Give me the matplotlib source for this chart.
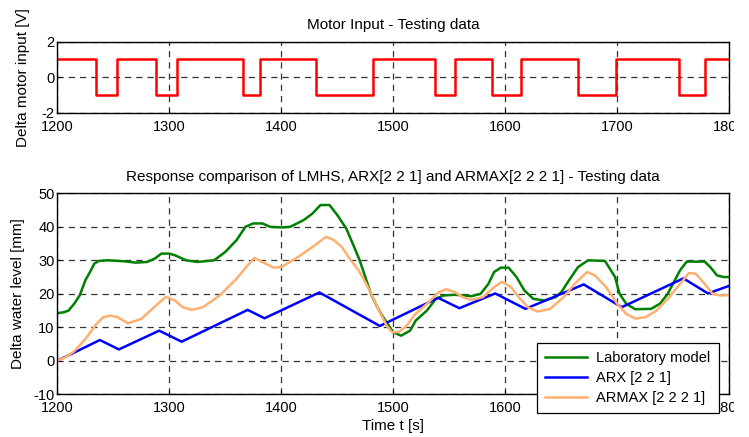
import matplotlib
matplotlib.use("Agg")
import matplotlib.pyplot as plt
from matplotlib.patches import Rectangle

plt.rcParams['font.family'] = ['Liberation Sans', 'DejaVu Sans']
plt.rcParams['font.size'] = 10
plt.rcParams['axes.unicode_minus'] = False

# motor input: switching instants and levels (step signal)
u_t = [1200, 1235, 1253, 1288, 1307, 1366, 1381, 1431, 1482, 1537, 1555,
       1588, 1614, 1665, 1699, 1755, 1778, 1800]
u_v = [1, -1, 1, -1, 1, -1, 1, -1, 1, -1, 1, -1, 1, -1, 1, -1, 1, 1]

# laboratory model (measured)
lab_t = [1200, 1206, 1210, 1215, 1220, 1225, 1230, 1233, 1237, 1245, 1260,
         1270, 1280, 1287, 1293, 1300, 1305, 1315, 1325, 1340, 1350, 1360,
         1368, 1375, 1383, 1390, 1400, 1408, 1420, 1428, 1435, 1443, 1450,
         1458, 1465, 1470, 1475, 1480, 1485, 1490, 1495, 1500, 1507, 1515,
         1520, 1530, 1538, 1545, 1555, 1570, 1578, 1585, 1590, 1596, 1603,
         1610, 1617, 1625, 1635, 1645, 1650, 1658, 1665, 1674, 1689, 1698,
         1702, 1708, 1716, 1730, 1738, 1745, 1756, 1762, 1778, 1783, 1789,
         1795, 1800]
lab_y = [14.2, 14.5, 15.0, 17.0, 19.5, 24.0, 27.0, 29.0, 29.8, 30.0, 29.7,
         29.3, 29.5, 30.5, 32.0, 32.0, 31.5, 30.0, 29.5, 30.0, 32.5, 36.0,
         40.0, 41.0, 41.0, 40.0, 39.8, 40.0, 42.0, 44.0, 46.5, 46.5, 43.5,
         39.5, 34.0, 30.0, 25.0, 20.0, 16.5, 13.5, 11.0, 8.5, 7.5, 9.0,
         12.0, 15.0, 18.5, 19.5, 19.7, 19.3, 20.0, 23.0, 26.5, 27.8, 27.8,
         25.0, 21.0, 18.5, 18.0, 19.0, 20.5, 24.6, 28.0, 30.0, 29.8, 25.0,
         20.0, 17.0, 15.4, 15.5, 17.0, 20.0, 27.0, 29.6, 29.6, 28.0, 25.5,
         25.0, 25.0]

# ARX [2 2 1]
arx_t = [1200, 1238, 1255, 1291, 1311, 1370, 1385, 1434, 1488, 1540, 1559,
         1591, 1618, 1670, 1704, 1759, 1781, 1800]
arx_y = [0.0, 6.2, 3.4, 9.0, 5.7, 15.2, 12.7, 20.4, 10.4, 18.8, 15.7,
         20.1, 15.5, 22.8, 16.0, 24.6, 20.1, 22.4]

# ARMAX [2 2 2 1]
armax_t = [1200, 1207, 1215, 1225, 1235, 1241, 1247, 1254, 1263, 1275, 1288,
           1297, 1305, 1312, 1320, 1330, 1345, 1360, 1370, 1376, 1383, 1393,
           1400, 1415, 1430, 1440, 1447, 1454, 1461, 1469, 1475, 1481, 1488,
           1494, 1499, 1505, 1512, 1519, 1530, 1540, 1547, 1555, 1562, 1570,
           1580, 1590, 1597, 1605, 1612, 1620, 1629, 1640, 1652, 1662, 1673,
           1680, 1690, 1700, 1708, 1716, 1725, 1735, 1745, 1755, 1764, 1770,
           1778, 1785, 1792, 1800]
armax_y = [0.0, 1.0, 2.8, 6.5, 11.0, 13.0, 13.5, 13.0, 11.2, 12.5, 16.5,
           19.1, 18.0, 16.0, 15.2, 16.0, 19.5, 24.5, 28.5, 30.7, 29.5, 27.8,
           28.0, 31.0, 34.5, 37.0, 36.0, 34.0, 30.5, 27.0, 23.5, 19.5, 14.5,
           10.5, 8.5, 8.6, 10.5, 13.7, 17.0, 20.3, 21.4, 20.5, 19.0, 18.2,
           19.0, 22.0, 23.6, 22.0, 19.0, 16.0, 14.7, 15.5, 19.0, 23.0, 26.5,
           25.5, 22.0, 17.0, 14.0, 12.6, 13.0, 15.0, 18.5, 22.5, 26.2, 26.0,
           23.0, 20.0, 19.5, 19.6]

xticks = [1200, 1300, 1400, 1500, 1600, 1700, 1800]

fig = plt.figure(figsize=(7.49, 4.37), dpi=100)
ax1 = fig.add_axes([0.0765, 0.7421, 0.8972, 0.1625])
ax2 = fig.add_axes([0.0765, 0.0977, 0.8972, 0.4600])

grid_kw = dict(color='0.2', linestyle=(0, (5, 4)), linewidth=0.9)

for ax in (ax1, ax2):
    ax.set_xlim(1200, 1800)
    ax.set_xticks(xticks)
    ax.grid(True, **grid_kw)
    ax.tick_params(direction='in', length=3, width=0.8, labelsize=10.5, pad=2)
    ax.tick_params(axis='x', pad=5)
    for s in ax.spines.values():
        s.set_linewidth(1.0)

ax1.step(u_t, u_v, where='post', color='red', linewidth=1.8)
ax1.set_ylim(-2, 2)
ax1.set_yticks([-2, 0, 2])
ax1.set_title('Motor Input - Testing data', fontsize=11, pad=9)
ax1.set_ylabel('Delta motor input [V]', fontsize=11, labelpad=8)

ax2.plot(lab_t, lab_y, color='#008000', linewidth=1.8, label='Laboratory model')
ax2.plot(arx_t, arx_y, color='#0000ff', linewidth=1.8, label='ARX [2 2 1]')
ax2.plot(armax_t, armax_y, color='#ffb070', linewidth=1.8, label='ARMAX [2 2 2 1]')
ax2.set_ylim(-10, 50)
ax2.set_yticks([-10, 0, 10, 20, 30, 40, 50])
ax2.set_title('Response comparison of LMHS, ARX[2 2 1] and ARMAX[2 2 2 1] - Testing data',
              fontsize=11, pad=9)
ax2.set_ylabel('Delta water level [mm]', fontsize=11, labelpad=6)
ax2.set_xlabel('Time t [s]', fontsize=11, labelpad=3)

leg = ax2.legend(loc='upper left', bbox_to_anchor=(0.7134, 0.2537),
                 borderaxespad=0, fancybox=False, framealpha=1,
                 edgecolor='black', fontsize=10.5, handlelength=2.9,
                 labelspacing=0.4, borderpad=0.55, handletextpad=0.65)
leg.get_frame().set_linewidth(0.9)
leg.set_zorder(10)

# right edge of the original image is cropped
fig.patches.append(Rectangle((734 / 749, 0), 1, 1, transform=fig.transFigure,
                             facecolor='white', edgecolor='none', zorder=20))

fig.savefig('out.png', dpi=100)
